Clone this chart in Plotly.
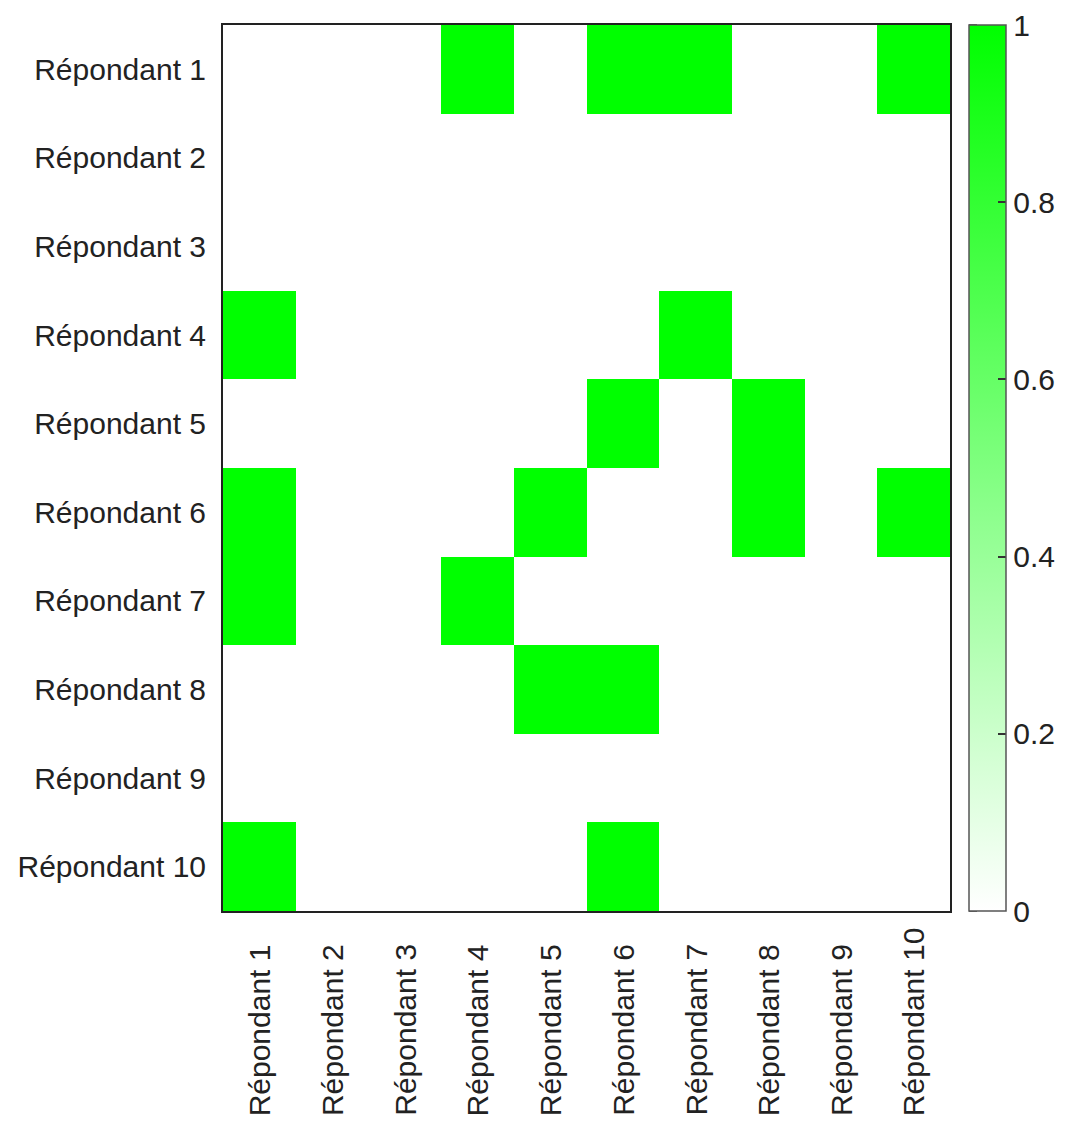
import plotly.graph_objects as go

respondents = [f"Répondant {i}" for i in range(1, 11)]
matrix = [
    [0, 0, 0, 1, 0, 1, 1, 0, 0, 1],
    [0, 0, 0, 0, 0, 0, 0, 0, 0, 0],
    [0, 0, 0, 0, 0, 0, 0, 0, 0, 0],
    [1, 0, 0, 0, 0, 0, 1, 0, 0, 0],
    [0, 0, 0, 0, 0, 1, 0, 1, 0, 0],
    [1, 0, 0, 0, 1, 0, 0, 1, 0, 1],
    [1, 0, 0, 1, 0, 0, 0, 0, 0, 0],
    [0, 0, 0, 0, 1, 1, 0, 0, 0, 0],
    [0, 0, 0, 0, 0, 0, 0, 0, 0, 0],
    [1, 0, 0, 0, 0, 1, 0, 0, 0, 0],
]
cbar_ticks = [0, 0.2, 0.4, 0.6, 0.8, 1]
cbar_labels = ["0", "0.2", "0.4", "0.6", "0.8", "1"]

PAGE_OFFSET = 7  # default body margin of the html page
W, H = 1072, 1122
L, T = 222 - PAGE_OFFSET, 24 - PAGE_OFFSET
plot_w, plot_h = 727, 886
R = W - L - plot_w
B = H - T - plot_h
cbar_x = (968 - 222) / plot_w
cbar_thick = 37

font = dict(family="Liberation Sans, Arial, sans-serif", size=30, color="#222222")

fig = go.Figure(
    go.Heatmap(
        z=matrix,
        x=respondents,
        y=respondents,
        zmin=0,
        zmax=1,
        colorscale=[[0, "#ffffff"], [1, "#00ff00"]],
        showscale=True,
        colorbar=dict(
            x=cbar_x,
            xanchor="left",
            y=0.5,
            yanchor="middle",
            len=1.0,
            lenmode="fraction",
            thickness=cbar_thick,
            thicknessmode="pixels",
            outlinewidth=1.5,
            outlinecolor="#555555",
            ticks="inside",
            ticklen=8,
            tickwidth=1.5,
            tickcolor="#333333",
            tickvals=cbar_ticks,
            ticktext=cbar_labels,
            tickfont=font,
            xpad=0,
            ypad=0,
        ),
    )
)

# left-side inner ticks of the colour bar
for v in cbar_ticks:
    fig.add_shape(
        type="line",
        xref="paper",
        yref="paper",
        x0=cbar_x,
        x1=cbar_x + 8 / plot_w,
        y0=v,
        y1=v,
        line=dict(color="#333333", width=1.5),
    )

# x-axis tick labels, rotated, aligned at their start (bottom)
for name in respondents:
    fig.add_annotation(
        x=name,
        xref="x",
        y=-206 / plot_h,
        yref="paper",
        text=name,
        textangle=-90,
        showarrow=False,
        xanchor="center",
        yanchor="bottom",
        font=font,
        borderpad=0,
    )

fig.update_layout(
    width=W,
    height=H,
    margin=dict(l=L, r=R, t=T, b=B, autoexpand=False),
    paper_bgcolor="white",
    plot_bgcolor="white",
    font=font,
)
fig.update_xaxes(
    showticklabels=False,
    showline=True,
    linecolor="#222222",
    linewidth=2,
    mirror=True,
    ticks="",
    showgrid=False,
    zeroline=False,
)
fig.update_yaxes(
    autorange="reversed",
    showline=True,
    linecolor="#222222",
    linewidth=2,
    mirror=True,
    ticks="",
    showgrid=False,
    zeroline=False,
    tickfont=font,
    ticklabelstandoff=9,
)

fig.write_html("out.html")
